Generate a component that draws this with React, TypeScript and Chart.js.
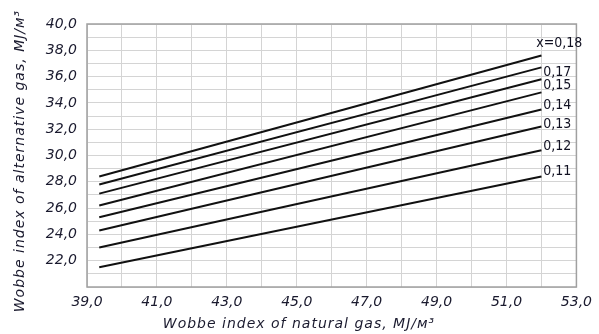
import React, { useEffect, useRef } from "react";
import { Chart, registerables } from "chart.js";

Chart.register(...registerables);

// Natural-gas Wobbe index at the start and end of each curve, MJ/m3
const xRange = [39.35, 52.0];
// Alternative-gas Wobbe index at start / end of each curve (top to bottom)
const startValues = [28.4, 27.8, 27.1, 26.2, 25.3, 24.3, 23.0, 21.5];
const endValues = [37.6, 36.7, 35.8, 34.8, 33.5, 32.2, 30.4, 28.4];
// Curve labels and their anchor in data units
const curveLabels = ["x=0,18", "0,17", "0,15", "0,14", "0,13", "0,12", "0,11"];
const labelX = [51.85, 52.05, 52.05, 52.05, 52.05, 52.05, 52.05];
const labelY = [38.5, 36.3, 35.3, 33.8, 32.4, 30.7, 28.8];
// Axis texts
const xTitle = "Wobbe index of natural gas, MJ/м³";
const yTitle = "Wobbe index of alternative gas, MJ/м³";

const fmt = (v: number) => v.toFixed(1).replace(".", ",");

export default function App() {
  const ref = useRef<HTMLCanvasElement | null>(null);
  useEffect(() => {
    if (!ref.current) return;
    const datasets = startValues.map((s, i) => ({
      label: "line" + i,
      data: [
        { x: xRange[0], y: s },
        { x: xRange[1], y: endValues[i] },
      ],
      borderColor: "#111111",
      borderWidth: 2,
      pointRadius: 0,
      showLine: true,
      fill: false,
    }));

    const decor = {
      id: "decor",
      afterDraw(chart: any) {
        const ctx = chart.ctx;
        const a = chart.chartArea;
        const xs = chart.scales.x;
        const ys = chart.scales.y;
        ctx.save();
        ctx.strokeStyle = "#a0a0a0";
        ctx.lineWidth = 1.5;
        ctx.strokeRect(a.left, a.top, a.right - a.left, a.bottom - a.top);
        // curve labels
        ctx.fillStyle = "#111122";
        ctx.font = "14px 'Liberation Sans Narrow', 'DejaVu Sans Condensed', sans-serif";
        ctx.textAlign = "left";
        ctx.textBaseline = "middle";
        curveLabels.forEach((t, i) => {
          ctx.fillText(t, xs.getPixelForValue(labelX[i]), ys.getPixelForValue(labelY[i]));
        });
        // axis titles
        ctx.font = "italic 14px 'DejaVu Sans', sans-serif";
        ctx.fillStyle = "#1a1a2e";
        ctx.textAlign = "center";
        ctx.textBaseline = "middle";
        (ctx as any).letterSpacing = "1px";
        ctx.fillText(xTitle, 299, 324);
        ctx.translate(20, 161);
        ctx.rotate(-Math.PI / 2);
        ctx.fillText(yTitle, 0, 0);
        ctx.restore();
      },
    };

    const tickFont = { family: "'DejaVu Sans', sans-serif", size: 14, style: "italic" as const };

    const chart = new Chart(ref.current, {
      type: "scatter",
      data: { datasets },
      options: {
        animation: false,
        responsive: false,
        maintainAspectRatio: false,
        layout: { padding: { top: 24, right: 21, left: 0, bottom: 0 } },
        plugins: { legend: { display: false }, tooltip: { enabled: false } },
        scales: {
          x: {
            type: "linear",
            min: 39,
            max: 53,
            afterFit(s: any) {
              s.height = 47;
            },
            border: { display: false },
            grid: { color: "#d4d4d4", lineWidth: 1, drawTicks: false },
            ticks: {
              stepSize: 1,
              autoSkip: false,
              maxRotation: 0,
              padding: 7,
              color: "#1a1a2e",
              font: tickFont,
              callback: (v: any) => (Math.round(v - 39) % 2 === 0 ? fmt(v) : ""),
            },
          },
          y: {
            type: "linear",
            min: 20,
            max: 40,
            afterFit(s: any) {
              s.width = 87;
            },
            border: { display: false },
            grid: { color: "#d4d4d4", lineWidth: 1, drawTicks: false },
            ticks: {
              stepSize: 1,
              autoSkip: false,
              padding: 10,
              color: "#1a1a2e",
              font: tickFont,
              callback: (v: any) => (Math.round(v) % 2 === 0 && v >= 22 ? fmt(v) : ""),
            },
          },
        },
      },
      plugins: [decor],
    });
    return () => chart.destroy();
  }, []);

  return (
    <div style={{ position: "fixed", left: 0, top: 0, width: 599, height: 334, background: "#fff" }}>
      <canvas ref={ref} width={599} height={334} style={{ width: 599, height: 334, display: "block" }} />
    </div>
  );
}
